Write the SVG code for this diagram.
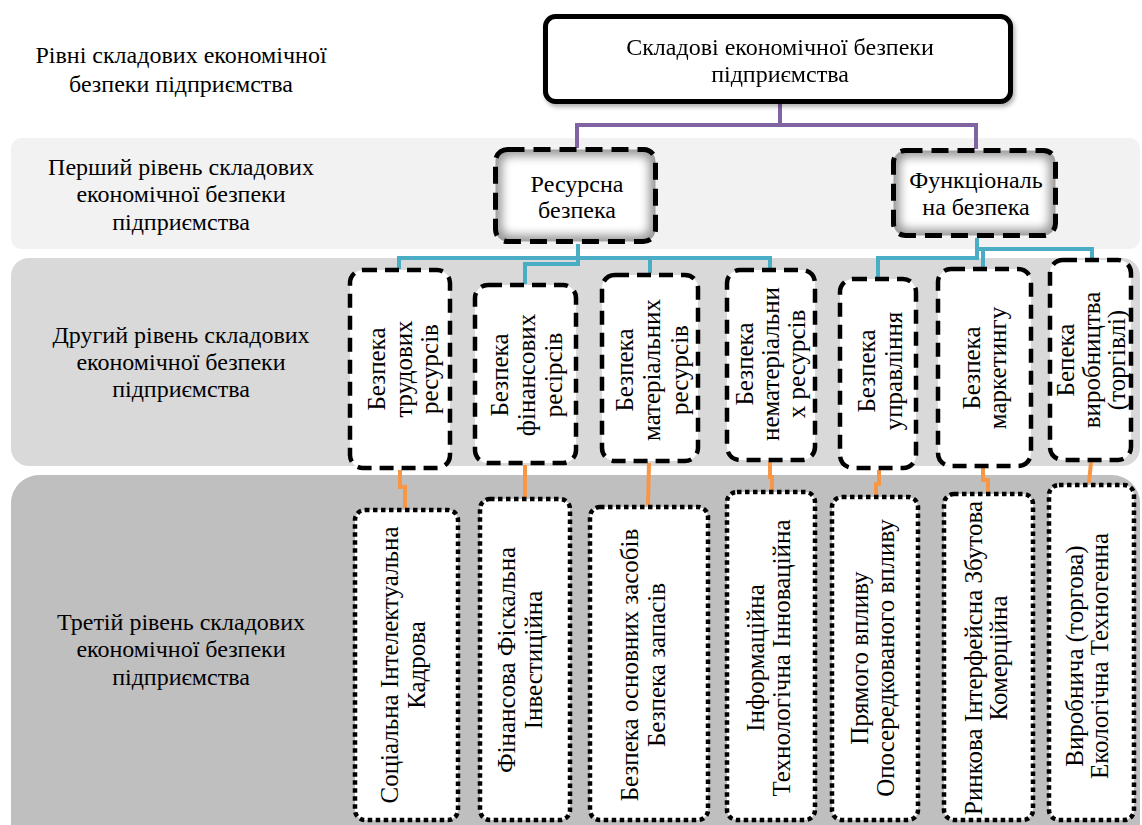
<svg xmlns="http://www.w3.org/2000/svg" width="1142" height="825" viewBox="0 0 1142 825">
<style>
  text { font-family: "Liberation Serif", "Times New Roman", serif; fill: #000; }
  .lbl { font-size: 24px; text-anchor: middle; }
  .t1 { font-size: 24px; text-anchor: middle; }
  .t2 { font-size: 25px; text-anchor: middle; }
  .t3 { font-size: 25px; text-anchor: middle; }
  .dash1 { fill: none; stroke: #000; stroke-width: 5; stroke-dasharray: 17 9; }
  .dash2 { fill: #fff; stroke: #000; stroke-width: 4.5; stroke-dasharray: 14 8; }
  .dot3 { fill: #fff; stroke: #000; stroke-width: 4.5; stroke-dasharray: 4.5 3.5; }
  .purple { fill: none; stroke: #8064a2; stroke-width: 4; }
  .cyan { fill: none; stroke: #4bacc6; stroke-width: 4; }
  .orange { fill: none; stroke: #f79646; stroke-width: 4; }
</style>
<defs>
  <filter id="soft" x="-20%" y="-20%" width="140%" height="140%">
    <feGaussianBlur stdDeviation="5"/>
  </filter>
  <filter id="shadow" x="-10%" y="-10%" width="130%" height="140%">
    <feDropShadow dx="2" dy="3" stdDeviation="2" flood-color="#000" flood-opacity="0.3"/>
  </filter>
</defs>
<rect width="1142" height="825" fill="#fff"/>

<g id="bands">
  <rect x="11" y="138" width="1129" height="111" rx="10" fill="#f2f2f2"/>
  <rect x="11" y="258" width="1129" height="208" rx="18" fill="#d9d9d9"/>
  <rect x="11" y="475" width="1129" height="380" rx="28" fill="#bfbfbf"/>
</g>

<g id="level-labels">
  <text class="lbl" x="181" y="63">Рівні складових економічної</text>
  <text class="lbl" x="181" y="92">безпеки підприємства</text>
  <text class="lbl" x="181" y="175">Перший рівень складових</text>
  <text class="lbl" x="181" y="202">економічної безпеки</text>
  <text class="lbl" x="181" y="230">підприємства</text>
  <text class="lbl" x="181" y="343">Другий рівень складових</text>
  <text class="lbl" x="181" y="370">економічної безпеки</text>
  <text class="lbl" x="181" y="397">підприємства</text>
  <text class="lbl" x="181" y="630">Третій рівень складових</text>
  <text class="lbl" x="181" y="657">економічної безпеки</text>
  <text class="lbl" x="181" y="685">підприємства</text>
</g>

<g id="connectors">
  <path class="purple" d="M780 104 V125 M577 148 V125 H976 V149"/>
  <path class="cyan" d="M578 244 V264 H525 V284 M399 269 V258 H770 V269 M650 258 V273"/>
  <path class="cyan" d="M977 238 V258 H878 V277 M977 249 H1092 V259 M983 249 V268"/>
  <path class="orange" d="M400 470 V487 H405 V508"/>
  <path class="orange" d="M525 465 V497"/>
  <path class="orange" d="M649 463 L648 505"/>
  <path class="orange" d="M770 462 V477 H772 V490"/>
  <path class="orange" d="M879 470 V484 H876 V495"/>
  <path class="orange" d="M983 468 V480 H988 V492"/>
  <path class="orange" d="M1091 462 L1089 483"/>
</g>

<g id="n-root" filter="url(#shadow)">
  <rect x="545.5" y="16.5" width="465" height="85" rx="10" fill="#fff" stroke="#000" stroke-width="5"/>
  <text class="t1" x="780" y="55">Складові економічної безпеки</text>
  <text class="t1" x="780" y="82">підприємства</text>
</g>

<g id="n-resursna">
  <rect x="495.5" y="149.5" width="160" height="92" rx="12" fill="#9a9a9a"/>
  <rect x="502" y="156" width="147" height="79" rx="8" fill="#fff" filter="url(#soft)"/>
  <rect x="495.5" y="149.5" width="160" height="92" rx="12" class="dash1"/>
  <text class="t1" x="577" y="192">Ресурсна</text>
  <text class="t1" x="577" y="218">безпека</text>
</g>

<g id="n-funktsionalna">
  <rect x="893.5" y="150.5" width="162" height="85" rx="12" fill="#9a9a9a"/>
  <rect x="900" y="157" width="149" height="72" rx="8" fill="#fff" filter="url(#soft)"/>
  <rect x="893.5" y="150.5" width="162" height="85" rx="12" class="dash1"/>
  <text class="t1" x="976" y="188">Функціональ</text>
  <text class="t1" x="976" y="215">на безпека</text>
</g>

<g id="n-trudovi">
  <rect x="350" y="270" width="100" height="198" rx="13" class="dash2"/>
  <g transform="translate(400 369) rotate(-90)">
    <text class="t2" x="0" y="-15">Безпека</text>
    <text class="t2" x="0" y="12">трудових</text>
    <text class="t2" x="0" y="38">ресурсів</text>
  </g>
</g>
<g id="n-finansovi">
  <rect x="475" y="285" width="101" height="178" rx="13" class="dash2"/>
  <g transform="translate(525 375) rotate(-90)">
    <text class="t2" x="0" y="-17">Безпека</text>
    <text class="t2" x="0" y="10">фінансових</text>
    <text class="t2" x="0" y="37">ресірсів</text>
  </g>
</g>
<g id="n-materialni">
  <rect x="602" y="275" width="96" height="186" rx="13" class="dash2"/>
  <g transform="translate(650 370) rotate(-90)">
    <text class="t2" x="0" y="-17">Безпека</text>
    <text class="t2" x="0" y="10">матеріальних</text>
    <text class="t2" x="0" y="38">ресурсів</text>
  </g>
</g>
<g id="n-nematerialni">
  <rect x="727" y="270" width="88" height="190" rx="13" class="dash2"/>
  <g transform="translate(771 364) rotate(-90)">
    <text class="t2" x="0" y="-18">Безпека</text>
    <text class="t2" x="0" y="8">нематеріальни</text>
    <text class="t2" x="0" y="34">х ресурсів</text>
  </g>
</g>
<g id="n-upravlinnia">
  <rect x="840" y="279" width="76" height="189" rx="13" class="dash2"/>
  <g transform="translate(878 371) rotate(-90)">
    <text class="t2" x="0" y="-3">Безпека</text>
    <text class="t2" x="0" y="24">управління</text>
  </g>
</g>
<g id="n-marketynh">
  <rect x="938" y="269" width="93" height="197" rx="13" class="dash2"/>
  <g transform="translate(985 368) rotate(-90)">
    <text class="t2" x="0" y="-5">Безпека</text>
    <text class="t2" x="0" y="21">маркетингу</text>
  </g>
</g>
<g id="n-vyrobnytstvo">
  <rect x="1050" y="260" width="81" height="200" rx="13" class="dash2"/>
  <g transform="translate(1090 360) rotate(-90)">
    <text class="t2" x="0" y="-16">Бепека</text>
    <text class="t2" x="0" y="10">виробництва</text>
    <text class="t2" x="0" y="35">(торгівлі)</text>
  </g>
</g>

<g id="n-l3-1">
  <rect x="355" y="510" width="103" height="310" rx="10" class="dot3"/>
  <g transform="translate(406 665) rotate(-90)">
    <text class="t3" x="0" y="-8">Соціальна Інтелектуальна</text>
    <text class="t3" x="0" y="19">Кадрова</text>
  </g>
</g>
<g id="n-l3-2">
  <rect x="480" y="499" width="90" height="321" rx="10" class="dot3"/>
  <g transform="translate(524 660) rotate(-90)">
    <text class="t3" x="0" y="-9">Фінансова Фіскальна</text>
    <text class="t3" x="0" y="18">Інвестиційна</text>
  </g>
</g>
<g id="n-l3-3">
  <rect x="590" y="507" width="118" height="313" rx="10" class="dot3"/>
  <g transform="translate(647 665) rotate(-90)">
    <text class="t3" x="0" y="-9">Безпека основних засобів</text>
    <text class="t3" x="0" y="18">Безпека запасів</text>
  </g>
</g>
<g id="n-l3-4">
  <rect x="727" y="492" width="88" height="328" rx="10" class="dot3"/>
  <g transform="translate(772 658) rotate(-90)">
    <text class="t3" x="0" y="-8">Інформаційна</text>
    <text class="t3" x="0" y="18">Технологічна Інноваційна</text>
  </g>
</g>
<g id="n-l3-5">
  <rect x="832" y="497" width="86" height="323" rx="10" class="dot3"/>
  <g transform="translate(876 658) rotate(-90)">
    <text class="t3" x="0" y="-8">Прямого впливу</text>
    <text class="t3" x="0" y="18">Опосередкованого впливу</text>
  </g>
</g>
<g id="n-l3-6">
  <rect x="944" y="494" width="89" height="326" rx="10" class="dot3"/>
  <g transform="translate(988 658) rotate(-90)">
    <text class="t3" x="0" y="-6">Ринкова Інтерфейсна Збутова</text>
    <text class="t3" x="0" y="19">Комерційна</text>
  </g>
</g>
<g id="n-l3-7">
  <rect x="1049" y="485" width="85" height="335" rx="10" class="dot3"/>
  <g transform="translate(1090 656) rotate(-90)">
    <text class="t3" x="0" y="-7">Виробнича (торгова)</text>
    <text class="t3" x="0" y="18">Екологічна Техногенна</text>
  </g>
</g>
</svg>
